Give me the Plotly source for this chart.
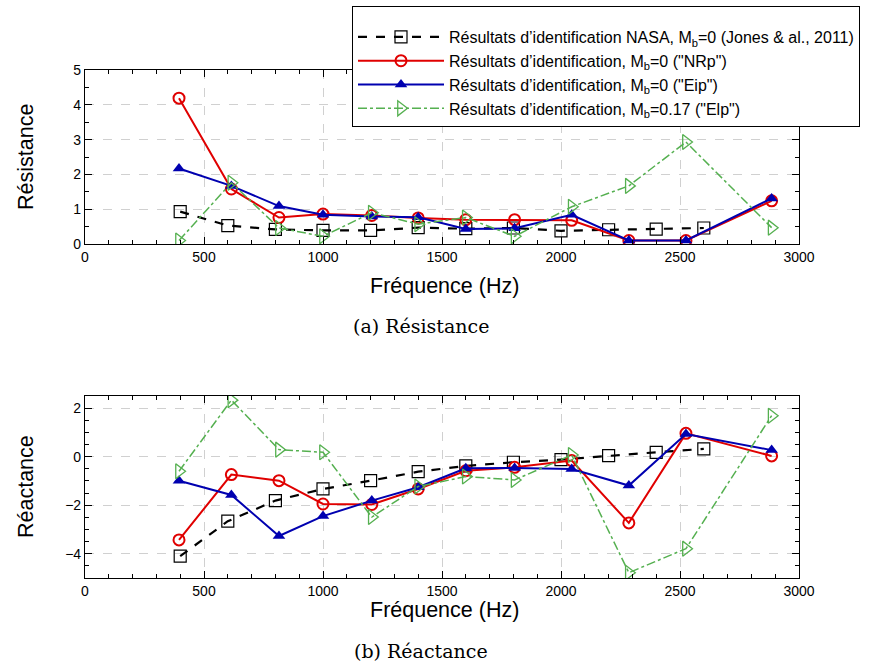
import plotly.graph_objects as go

# ---------------- data ----------------
freq_nasa = [400, 600, 800, 1000, 1200, 1400, 1600, 1800, 2000, 2200, 2400, 2600]
freq_id = [395, 615, 815, 1000, 1205, 1400, 1600, 1805, 2045, 2285, 2525, 2885]

res_nasa = [0.93, 0.53, 0.42, 0.39, 0.39, 0.47, 0.44, 0.46, 0.38, 0.41, 0.43, 0.46]
res_nrp = [4.19, 1.58, 0.76, 0.86, 0.82, 0.75, 0.70, 0.70, 0.68, 0.10, 0.10, 1.24]
res_eip = [2.17, 1.67, 1.09, 0.84, 0.79, 0.77, 0.43, 0.45, 0.84, 0.10, 0.10, 1.31]
res_elp = [0.10, 1.76, 0.46, 0.22, 0.90, 0.57, 0.76, 0.22, 1.07, 1.67, 2.93, 0.47]

rea_nasa = [-4.10, -2.66, -1.81, -1.33, -0.99, -0.62, -0.38, -0.23, -0.12, 0.04, 0.18, 0.32]
rea_nrp = [-3.43, -0.74, -0.99, -1.95, -1.97, -1.33, -0.58, -0.44, -0.16, -2.73, 0.96, 0.03]
rea_eip = [-0.99, -1.58, -3.27, -2.45, -1.81, -1.26, -0.48, -0.47, -0.51, -1.19, 0.93, 0.27]
rea_elp = [-0.60, 2.33, 0.29, 0.18, -2.49, -1.23, -0.82, -0.96, 0.07, -4.78, -3.79, 1.69]

names = [
    "Résultats d’identification NASA, M<sub>b</sub>=0 (Jones &amp; al., 2011)",
    "Résultats d’identification, M<sub>b</sub>=0 (\"NRp\")",
    "Résultats d’identification, M<sub>b</sub>=0 (\"Eip\")",
    "Résultats d’identification, M<sub>b</sub>=0.17 (\"Elp\")",
]

styles = [
    dict(line=dict(color="black", width=2.2, dash="dash"),
         marker=dict(symbol="square-open", size=12, color="black", line=dict(width=1.2))),
    dict(line=dict(color="#e00000", width=2),
         marker=dict(symbol="circle-open", size=11, color="#e00000", line=dict(width=2))),
    dict(line=dict(color="#0000b0", width=2),
         marker=dict(symbol="triangle-up", size=11, color="#0000b0")),
    dict(line=dict(color="#55b050", width=1.5, dash="dashdot"),
         marker=dict(symbol="triangle-right-open", size=13, color="#55b050", line=dict(width=1.3))),
]

fig = go.Figure()
top_series = [(freq_nasa, res_nasa), (freq_id, res_nrp), (freq_id, res_eip), (freq_id, res_elp)]
bot_series = [(freq_nasa, rea_nasa), (freq_id, rea_nrp), (freq_id, rea_eip), (freq_id, rea_elp)]

for i, ((x, y), st) in enumerate(zip(top_series, styles)):
    fig.add_trace(go.Scatter(x=x, y=y, mode="lines+markers", name=names[i],
                             legendgroup=f"g{i}", xaxis="x", yaxis="y", **st))
for i, ((x, y), st) in enumerate(zip(bot_series, styles)):
    fig.add_trace(go.Scatter(x=x, y=y, mode="lines+markers", name=names[i],
                             legendgroup=f"g{i}", showlegend=False, xaxis="x2", yaxis="y2", **st))

W, H = 871, 666
L, R = 85, 72
tickfont = dict(family="Liberation Sans, Arial, sans-serif", size=14, color="black")


def xax(anchor):
    return dict(range=[0, 3000], dtick=500, tick0=0, anchor=anchor, automargin=False,
                showline=True, linecolor="black", linewidth=1.2, mirror="allticks",
                ticks="inside", ticklen=7, tickcolor="black",
                showgrid=True, gridcolor="#d0d0d0", griddash="dash", gridwidth=1,
                zeroline=False, tickfont=tickfont,
                minor=dict(dtick=100, tick0=0, ticks="inside", ticklen=4, tickcolor="black", showgrid=False))


def yax(anchor, domain, rng, dt):
    return dict(range=rng, dtick=dt, tick0=0, domain=domain, anchor=anchor, automargin=False,
                showline=True, linecolor="black", linewidth=1.2, mirror="allticks",
                ticks="inside", ticklen=7, tickcolor="black",
                showgrid=True, gridcolor="#d0d0d0", griddash="dash", gridwidth=1,
                zeroline=False, tickfont=tickfont,
                minor=dict(dtick=0.5, tick0=0, ticks="inside", ticklen=4,
                           tickcolor="black", showgrid=False))


d1 = [1 - 244 / H, 1 - 70 / H]
d2 = [1 - 578 / H, 1 - 396 / H]

fig.update_layout(
    width=W, height=H,
    margin=dict(l=L, r=R, t=0, b=0, autoexpand=False),
    paper_bgcolor="white", plot_bgcolor="white",
    font=dict(family="Liberation Sans, Arial, sans-serif", color="black"),
    xaxis=xax("y"),
    yaxis=yax("x", d1, [0, 5], 1),
    xaxis2=xax("y2"),
    yaxis2=yax("x2", d2, [-5, 2.5], 2),
    showlegend=True,
    legend=dict(xref="container", yref="container",
                x=352 / W, y=1 - 6 / H, xanchor="left", yanchor="top",
                bgcolor="white", bordercolor="black", borderwidth=1,
                font=dict(size=16, family="Liberation Sans, Arial, sans-serif", color="black"),
                itemwidth=86, traceorder="grouped", tracegroupgap=0,
                title=dict(text=" ", font=dict(size=10))),
)

ann_font = dict(family="Liberation Sans, Arial, sans-serif", size=21.5, color="black")
cap_font = dict(family="DejaVu Serif, Liberation Serif, serif", size=19, color="black")
PW = W - L - R


def px_x(px):
    return (px - L) / PW


fig.add_annotation(text="Fréquence (Hz)", xref="paper", yref="paper", x=px_x(444), y=1 - 286 / H,
                   showarrow=False, font=ann_font, xanchor="center", yanchor="middle")
fig.add_annotation(text="Fréquence (Hz)", xref="paper", yref="paper", x=px_x(444), y=1 - 610 / H,
                   showarrow=False, font=ann_font, xanchor="center", yanchor="middle")
fig.add_annotation(text="Résistance", xref="paper", yref="paper", x=px_x(26), y=1 - 157 / H,
                   showarrow=False, font=ann_font, textangle=-90, xanchor="center", yanchor="middle")
fig.add_annotation(text="Réactance", xref="paper", yref="paper", x=px_x(26), y=1 - 487 / H,
                   showarrow=False, font=ann_font, textangle=-90, xanchor="center", yanchor="middle")
fig.add_annotation(text="(a) Résistance", xref="paper", yref="paper", x=px_x(421), y=1 - 326 / H,
                   showarrow=False, font=cap_font, xanchor="center", yanchor="middle")
fig.add_annotation(text="(b) Réactance", xref="paper", yref="paper", x=px_x(421), y=1 - 651 / H,
                   showarrow=False, font=cap_font, xanchor="center", yanchor="middle")

fig.write_html("out.html", config={"displayModeBar": False},
               post_script="document.body.style.margin='0';document.body.style.overflow='hidden';")
